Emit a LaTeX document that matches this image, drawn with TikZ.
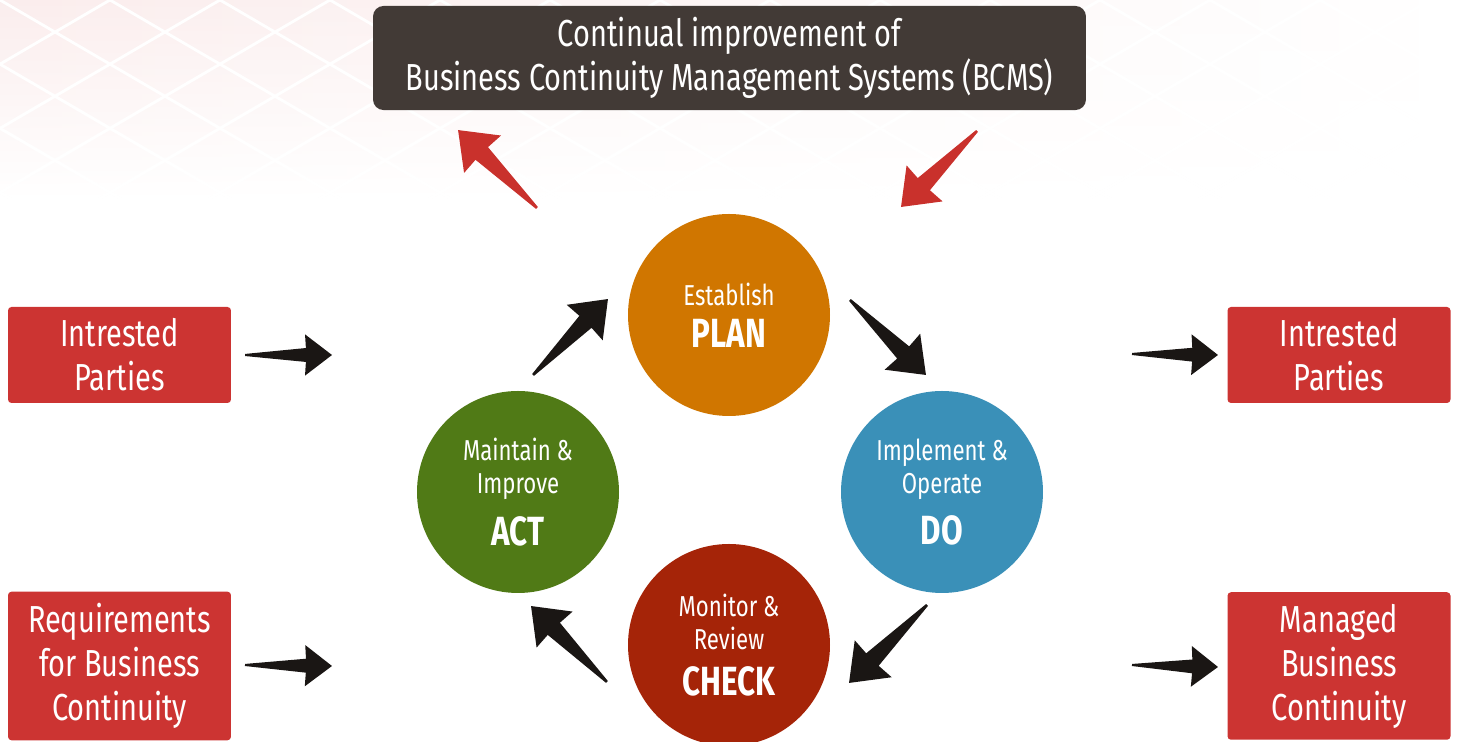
\documentclass[tikz,border=0pt]{standalone}
\usepackage{fontspec}
\setmainfont{Fira Sans}[FakeStretch=0.77]
\usepackage{xcolor}
\usetikzlibrary{calc}
\usetikzlibrary{fadings}

\definecolor{planorange}{RGB}{208,118,0}
\definecolor{doblue}{RGB}{58,144,184}
\definecolor{checkred}{RGB}{165,36,8}
\definecolor{actgreen}{RGB}{80,122,22}
\definecolor{boxred}{RGB}{204,52,50}
\definecolor{topgrey}{RGB}{66,58,54}
\definecolor{arrowblack}{RGB}{26,22,20}
\definecolor{arrowred}{RGB}{201,49,44}

% fat tapered arrow from #2 (tail) to #3 (tip)
\newcommand\fatarrow[3]{%
  \path let \p1=($(#3)-(#2)$) in \pgfextra{%
    \pgfmathsetmacro\arrang{atan2(\y1,\x1)}\xdef\arrang{\arrang}%
    \pgfmathsetmacro\arrlen{veclen(\x1,\y1)}\xdef\arrlen{\arrlen}};
  \begin{scope}[shift={(#2)}, rotate=\arrang, x=\arrlen pt, y=\arrlen pt]
    \fill[#1] (0,0.012) -- (0.70,0.08) -- (0.69,0.237) -- (1,0)
      -- (0.69,-0.237) -- (0.70,-0.08) -- (0,-0.012) -- cycle;
  \end{scope}}

\begin{document}
\begin{tikzpicture}[x=0.1mm, y=-0.1mm,
  phase/.style={circle, minimum size=20.2mm, inner sep=0pt, text=white,
    align=center, font=\fontsize{8.2}{9.4}\selectfont},
  redbox/.style={rectangle, fill=boxred, rounded corners=1pt, minimum width=22.3mm,
    text=white, align=center, font=\fontsize{10.7}{12.5}\selectfont}]
  \useasboundingbox (0,0) rectangle (1458,742);

  % background
  \begin{scope}
    \clip (0,0) rectangle (1458,200);
    \shade[left color=boxred!9, right color=white, path fading=south] (0,0) rectangle (1458,200);
    \foreach \i in {-8,...,16}{
      \draw[white, line width=0.8pt] (\i*110,0) -- ++(360,210);
      \draw[white, line width=0.8pt] (\i*110,0) -- ++(-360,210);
    }
  \end{scope}

  % title
  \node[fill=topgrey, rounded corners=3pt, minimum width=71.3mm, minimum height=10mm,
    text=white, align=center, font=\fontsize{10.7}{11.1}\selectfont] (bcms) at (729.5,58)
    {Continual improvement of\\Business Continuity Management Systems (BCMS)};

  % cycle
  \node[phase, fill=planorange] (plan) at (729,315) {Establish\\[2.5pt]{\fontsize{11.6}{12}\selectfont\bfseries PLAN}};
  \node[phase, fill=doblue] (do) at (942,492) {Implement \&\\Operate\\[3.6pt]{\fontsize{11.6}{12}\selectfont\bfseries DO}};
  \node[phase, fill=checkred] (check) at (729,645) {Monitor \&\\Review\\[3.6pt]{\fontsize{11.6}{12}\selectfont\bfseries CHECK}};
  \node[phase, fill=actgreen] (act) at (518,492) {Maintain \&\\Improve\\[3.6pt]{\fontsize{11.6}{12}\selectfont\bfseries ACT}};

  % inputs and outputs
  \node[redbox, minimum height=8.8mm] (inparties) at (119.5,355) {Intrested\\Parties};
  \node[redbox, minimum height=14.6mm] (inreq) at (119.5,666) {Requirements\\for Business\\Continuity};
  \node[redbox, minimum height=8.8mm] (outparties) at (1339,355) {Intrested\\Parties};
  \node[redbox, minimum height=14.6mm] (outmanaged) at (1339,666) {Managed\\Business\\Continuity};

  % arrow ends
  \coordinate (in1a) at (245,355);   \coordinate (in1b) at (332,355);
  \coordinate (in2a) at (245,665);   \coordinate (in2b) at (332,666);
  \coordinate (out1a) at (1132,354); \coordinate (out1b) at (1218,355);
  \coordinate (out2a) at (1132,665); \coordinate (out2b) at (1218,667);
  \coordinate (pdoa) at (850,300);   \coordinate (pdob) at (926,375);
  \coordinate (dca) at (927,605);    \coordinate (dcb) at (849,683);
  \coordinate (caa) at (607,682);    \coordinate (cab) at (531,606);
  \coordinate (apa) at (533,375);    \coordinate (apb) at (608,299);
  \coordinate (upa) at (537,208);    \coordinate (upb) at (458,130);
  \coordinate (dna) at (977,131);    \coordinate (dnb) at (901,207);

  \fatarrow{arrowblack}{in1a}{in1b}
  \fatarrow{arrowblack}{in2a}{in2b}
  \fatarrow{arrowblack}{out1a}{out1b}
  \fatarrow{arrowblack}{out2a}{out2b}
  \fatarrow{arrowblack}{pdoa}{pdob}
  \fatarrow{arrowblack}{dca}{dcb}
  \fatarrow{arrowblack}{caa}{cab}
  \fatarrow{arrowblack}{apa}{apb}
  \fatarrow{arrowred}{upa}{upb}
  \fatarrow{arrowred}{dna}{dnb}
\end{tikzpicture}
\end{document}
